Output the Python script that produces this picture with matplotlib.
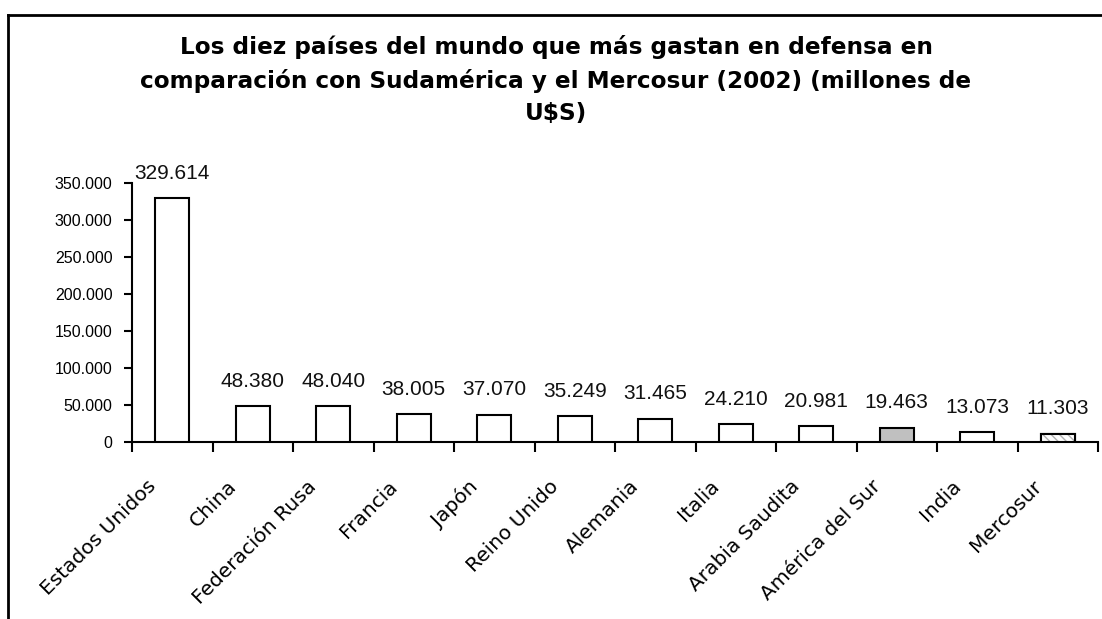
import matplotlib
matplotlib.use("Agg")
import matplotlib.pyplot as plt
from matplotlib.ticker import FuncFormatter, FixedLocator
import matplotlib.transforms as mtransforms
from matplotlib.lines import Line2D

categories = ["Estados Unidos", "China", "Federación Rusa", "Francia", "Japón",
              "Reino Unido", "Alemania", "Italia", "Arabia Saudita",
              "América del Sur", "India", "Mercosur"]
values = [329614, 48380, 48040, 38005, 37070, 35249, 31465, 24210, 20981,
          19463, 13073, 11303]
value_labels = ["329.614", "48.380", "48.040", "38.005", "37.070", "35.249",
                "31.465", "24.210", "20.981", "19.463", "13.073", "11.303"]
yticks = [0, 50000, 100000, 150000, 200000, 250000, 300000, 350000]
title = ("Los diez países del mundo que más gastan en defensa en\n"
         "comparación con Sudamérica y el Mercosur (2002) (millones de\nU$S)")

plt.rcParams['font.family'] = ['Liberation Sans', 'DejaVu Sans']

fig = plt.figure(figsize=(11.02, 6.19), dpi=100)
fig.patch.set_facecolor('white')
ax = fig.add_axes([132/1102, 1-442/619, (1098-132)/1102, (442-183)/619])

x = list(range(len(categories)))
faces = ['white'] * len(categories)
faces[categories.index("América del Sur")] = '#c0c0c0'
bw = 0.42
ax.bar(x, values, width=bw, color=faces, edgecolor='black', linewidth=1.5, zorder=3)
# Mercosur hatched overlay
mi = categories.index("Mercosur")
ax.bar([x[mi]], [values[mi]], width=bw, color='white', edgecolor='#b0b0b0',
       hatch='\\\\\\\\', linewidth=0, zorder=3)
ax.bar([x[mi]], [values[mi]], width=bw, fill=False, edgecolor='black',
       linewidth=1.5, zorder=4)

for xi, v, lab in zip(x, values, value_labels):
    ax.annotate(lab, (xi, v), xytext=(0, 11), textcoords='offset points',
                ha='center', va='bottom', fontsize=15, color='#111111')

ax.set_xlim(-0.5, len(categories) - 0.5)
ax.set_ylim(0, 350000)
ax.set_yticks(yticks)
ax.yaxis.set_major_formatter(FuncFormatter(lambda v, p: f"{int(v):,}".replace(",", ".")))
ax.tick_params(axis='y', direction='out', length=6, width=1.5, labelsize=11.5, pad=8)

ax.set_xticks(x)
ax.set_xticklabels(categories, rotation=45, ha='right', rotation_mode='anchor',
                   fontsize=14.5, family='DejaVu Sans')
ax.tick_params(axis='x', which='major', length=0, pad=25)
ax.xaxis.set_minor_locator(FixedLocator([i - 0.5 for i in range(len(categories) + 1)]))
ax.tick_params(axis='x', which='minor', direction='out', length=7, width=1.5)
offset = mtransforms.ScaledTranslation(-26/100, 0, fig.dpi_scale_trans)
for lbl in ax.get_xticklabels():
    lbl.set_transform(lbl.get_transform() + offset)

for s in ['top', 'right']:
    ax.spines[s].set_visible(False)
for s in ['left', 'bottom']:
    ax.spines[s].set_linewidth(1.5)

fig.text(556/1102, 1-80/619, title, ha='center', va='center', fontsize=16.7,
         fontweight='bold', family='DejaVu Sans', linespacing=1.5)

# outer frame (left and top edges)
fig.add_artist(Line2D([8/1102, 8/1102], [0, 1-15/619], transform=fig.transFigure,
                      color='black', linewidth=2))
fig.add_artist(Line2D([8/1102, 1], [1-15/619, 1-15/619], transform=fig.transFigure,
                      color='black', linewidth=2))

fig.savefig("out.png", dpi=100, facecolor='white')
